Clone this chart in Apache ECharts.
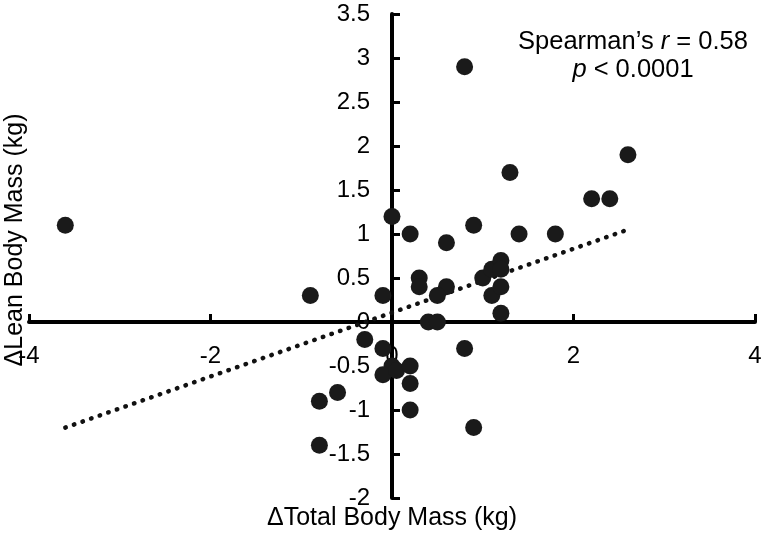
<!DOCTYPE html>
<html>
<head>
<meta charset="utf-8">
<script src="https://cdn.jsdelivr.net/npm/echarts@6/dist/echarts.min.js"></script>
<style>
  html, body { margin: 0; padding: 0; background: #fff; }
  #main { width: 767px; height: 535px; }
</style>
</head>
<body>
<div id="main"></div>
<script>
// data
const totalMass = [-3.6, -0.9, -0.1, 0.0, 0.2, 0.3, 0.3, 0.6, 0.6, 0.5, 0.4, 0.5, 0.9, 1.0, 1.1, 1.2, 1.2, 1.1, 1.2, 1.2,
  1.4, 1.8, 0.8, 1.3, 2.2, 2.4, 2.6, -0.3, -0.1, 0.8, 0.0, -0.1, 0.05, 0.2, 0.2, -0.6, -0.8, 0.2, 0.9, -0.8];
const leanMass = [1.1, 0.3, 0.3, 1.2, 1.0, 0.5, 0.4, 0.9, 0.4, 0.3, 0.0, 0.0, 1.1, 0.5, 0.6, 0.7, 0.6, 0.3, 0.4, 0.1,
  1.0, 1.0, 2.9, 1.7, 1.4, 1.4, 1.9, -0.2, -0.3, -0.3, -0.5, -0.6, -0.55, -0.5, -0.7, -0.8, -0.9, -1.0, -1.2, -1.4];
// trend line end points
const trendX = [-3.6, 2.6];
const trendY = [-1.2, 1.05];

const xMin = -4, xMax = 4, yMin = -2, yMax = 3.5;
const font = 'Liberation Sans, Arial, sans-serif';

const W = 767, H = 535;
const grid = { left: 29, right: 12, top: 14, bottom: 37 };
const plotW = W - grid.left - grid.right;
const plotH = H - grid.top - grid.bottom;

// axes cross at zero, so shift them with offset (labels move too)
const xAxisOffset = -(0 - yMin) / (yMax - yMin) * plotH;
const yAxisOffset = -(0 - xMin) / (xMax - xMin) * plotW;

const points = totalMass.map((x, i) => [x, leanMass[i]]);
const trend = trendX.map((x, i) => [x, trendY[i]]);

const myChart = echarts.init(document.getElementById('main'));

const axisCommon = {
  type: 'value',
  axisLine: { onZero: false, lineStyle: { color: '#000', width: 4 } },
  axisTick: { show: true, inside: true, length: 8, lineStyle: { color: '#000', width: 3 } },
  axisLabel: { color: '#000', fontSize: 24, fontFamily: font, margin: 22 },
  splitLine: { show: false }
};

myChart.setOption({
  animation: false,
  backgroundColor: '#fff',
  grid: Object.assign({ outerBoundsMode: 'none', containLabel: false }, grid),
  xAxis: Object.assign({}, axisCommon, {
    position: 'bottom', offset: xAxisOffset,
    min: xMin, max: xMax, interval: 2
  }),
  yAxis: Object.assign({}, axisCommon, {
    position: 'left', offset: yAxisOffset,
    min: yMin, max: yMax, interval: 0.5
  }),
  series: [
    {
      type: 'line',
      data: trend,
      symbol: 'none',
      lineStyle: { color: '#111', width: 4.5, type: [0.5, 8.6], cap: 'round' },
      z: 3
    },
    {
      type: 'scatter',
      data: points,
      symbolSize: 17,
      itemStyle: { color: '#1a1a1a', opacity: 1 },
      z: 4
    }
  ],
  graphic: [
    {
      type: 'text',
      x: 392, y: 518,
      style: { text: '\u0394Total Body Mass (kg)', fill: '#000', font: '25px ' + font, textAlign: 'center', textVerticalAlign: 'middle' }
    },
    {
      type: 'text',
      x: 15, y: 240,
      rotation: Math.PI / 2,
      style: { text: '\u0394Lean Body Mass (kg)', fill: '#000', font: '25px ' + font, textAlign: 'center', textVerticalAlign: 'middle' }
    },
    {
      type: 'text',
      x: 633, y: 42,
      style: {
        text: '{a|Spearman\u2019s }{i|r}{a| = 0.58}',
        textAlign: 'center', textVerticalAlign: 'middle',
        rich: {
          a: { fontSize: 25.5, fontFamily: font, fill: '#000' },
          i: { fontSize: 25.5, fontFamily: font, fontStyle: 'italic', fill: '#000' }
        }
      }
    },
    {
      type: 'text',
      x: 633, y: 70,
      style: {
        text: '{i|p}{a| < 0.0001}',
        textAlign: 'center', textVerticalAlign: 'middle',
        rich: {
          a: { fontSize: 25.5, fontFamily: font, fill: '#000' },
          i: { fontSize: 25.5, fontFamily: font, fontStyle: 'italic', fill: '#000' }
        }
      }
    }
  ]
});
</script>
</body>
</html>
